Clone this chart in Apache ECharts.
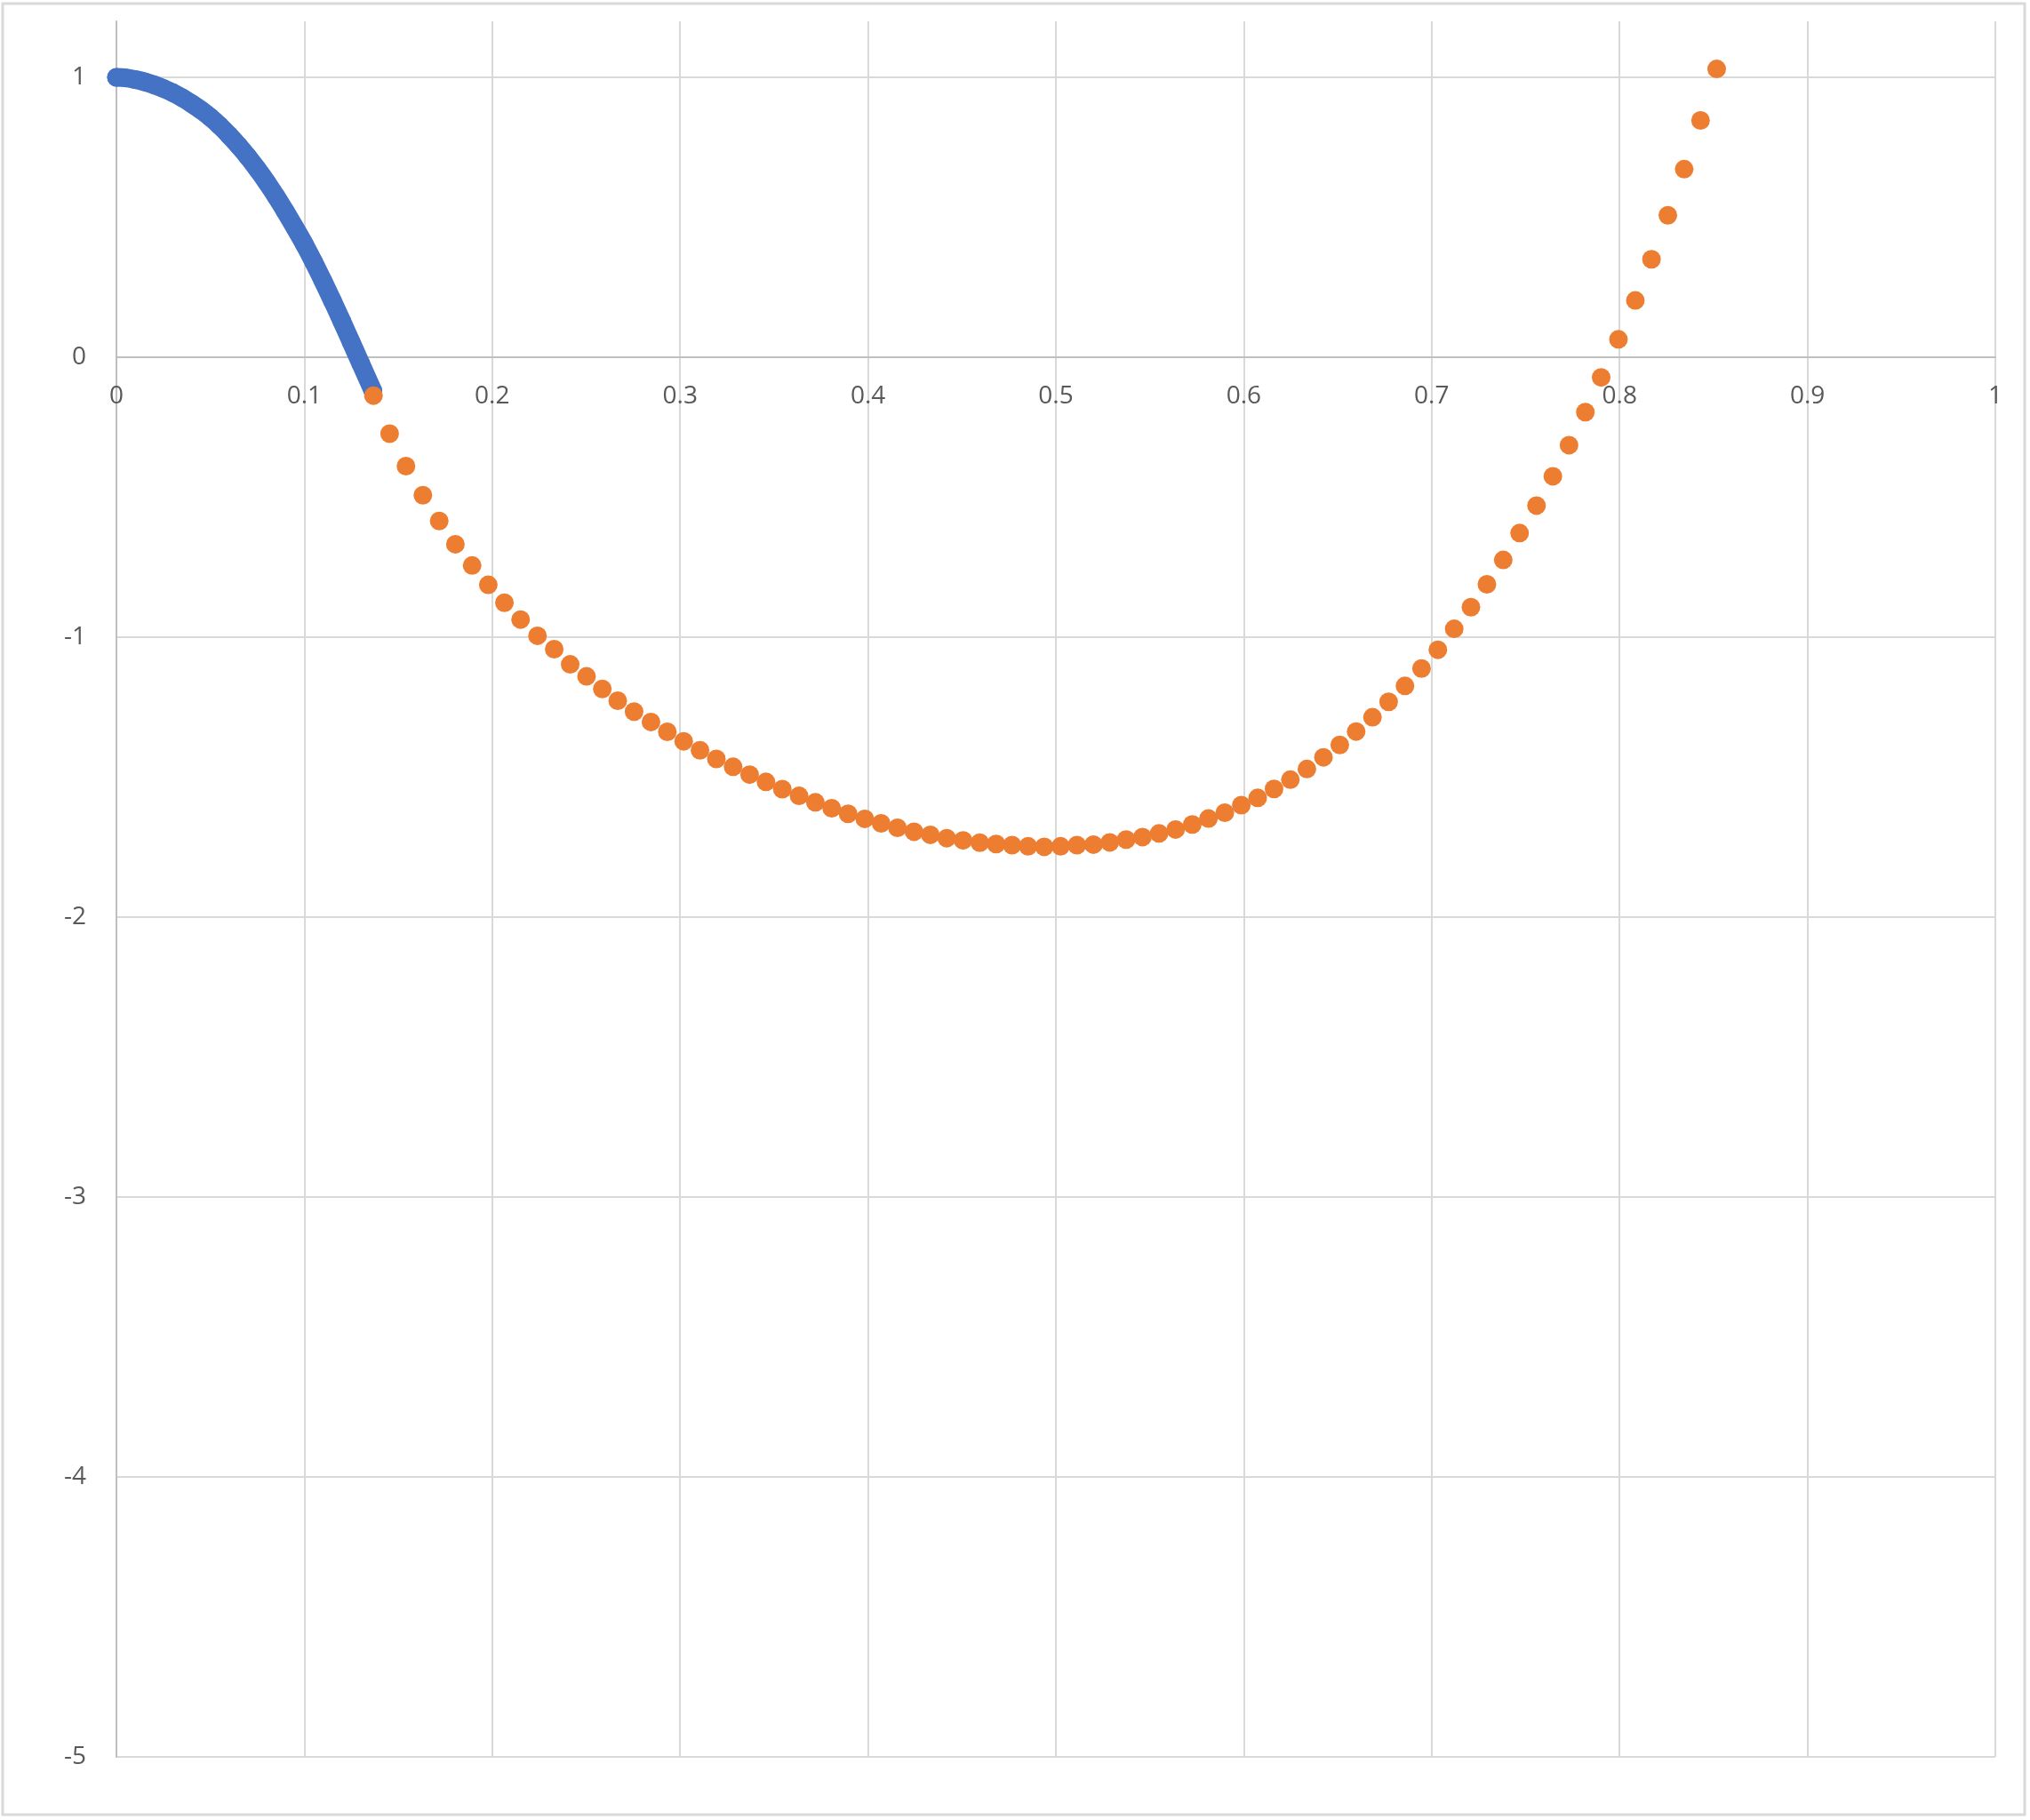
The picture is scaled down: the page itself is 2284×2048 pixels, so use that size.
<!DOCTYPE html>
<html>
<head>
<meta charset="utf-8">
<script src="https://cdn.jsdelivr.net/npm/echarts@6/dist/echarts.min.js"></script>
<style>
  html, body { margin: 0; padding: 0; background: #ffffff; }
  #chart { width: 2284px; height: 2048px; }
</style>
</head>
<body>
<div id="chart"></div>
<script>
// ---- Data ----
const blueX = [0, 0.005, 0.01, 0.015, 0.02, 0.025, 0.03, 0.035, 0.04, 0.045, 0.05, 0.055, 0.06, 0.065, 0.07, 0.075, 0.08, 0.085, 0.09, 0.095, 0.10, 0.105, 0.11, 0.115, 0.12, 0.125, 0.13, 0.1365];
const blueY = [1.000, 0.998, 0.992, 0.984, 0.973, 0.960, 0.945, 0.927, 0.906, 0.883, 0.857, 0.827, 0.793, 0.756, 0.716, 0.672, 0.625, 0.574, 0.520, 0.463, 0.404, 0.340, 0.272, 0.201, 0.128, 0.053, -0.022, -0.120];

const orangeX = [0.1368, 0.1454, 0.1541, 0.1631, 0.1718, 0.1804, 0.1893, 0.1979, 0.2065, 0.2151, 0.2241, 0.2330,
  0.2415, 0.2502,
  0.2586, 0.2668, 0.2755, 0.2845, 0.2932, 0.3019, 0.3106, 0.3193, 0.3282, 0.3370, 0.3457, 0.3544, 0.3633, 0.3720, 0.3807, 0.3894, 0.3983, 0.4070, 0.4157, 0.4245, 0.4332, 0.4419, 0.4506, 0.4595, 0.4682,
  0.4767, 0.4852, 0.4938, 0.5025, 0.5112, 0.5200, 0.5287, 0.5374, 0.5461, 0.5549, 0.5637, 0.5726, 0.5812, 0.5899, 0.5987, 0.6074, 0.6161, 0.6248, 0.6336, 0.6424, 0.6511, 0.6598, 0.6685, 0.6771, 0.6858,
  0.6946, 0.7033, 0.7120, 0.7209, 0.7294, 0.7381, 0.7468, 0.7558, 0.7645, 0.7731, 0.7818, 0.7902,
  0.7994, 0.8084, 0.8170, 0.8257, 0.8344, 0.8431, 0.8517];
const orangeY = [-0.137, -0.273, -0.389, -0.493, -0.585, -0.668, -0.744, -0.813, -0.877, -0.937, -0.995, -1.043,
  -1.097, -1.140,
  -1.185, -1.227, -1.266, -1.303, -1.338, -1.372, -1.404, -1.435, -1.463, -1.491, -1.517, -1.543, -1.567, -1.590, -1.611, -1.631, -1.649, -1.665, -1.681, -1.695, -1.706, -1.718, -1.726, -1.734, -1.739,
  -1.743, -1.747, -1.749, -1.747, -1.743, -1.741, -1.733, -1.723, -1.714, -1.701, -1.687, -1.669, -1.648, -1.627, -1.600, -1.574, -1.542, -1.509, -1.471, -1.429, -1.385, -1.337, -1.286, -1.231, -1.174,
  -1.112, -1.045, -0.970, -0.893, -0.811, -0.724, -0.628, -0.530, -0.425, -0.314, -0.196, -0.072,
  0.064, 0.203, 0.350, 0.507, 0.672, 0.846, 1.030];

// Axis settings
const xMin = 0, xMax = 1, xStep = 0.1;
const yMin = -5, yMax = 1.2, yStep = 1;

const bluePts = blueX.map((x, i) => [x, blueY[i]]);
const orangePts = orangeX.map((x, i) => [x, orangeY[i]]);

const gridTop = 24, gridBottom = 71, chartH = 2048;
const gridH = chartH - gridTop - gridBottom;
// shift the x axis up so it crosses the y axis at 0
const xAxisOffset = -gridH * (0 - yMin) / (yMax - yMin);

const chart = echarts.init(document.getElementById('chart'), null, { renderer: 'canvas' });
const labelFont = { fontFamily: '"Open Sans", "Noto Sans", sans-serif', fontSize: 28, color: '#595959' };

chart.setOption({
  animation: false,
  backgroundColor: '#ffffff',
  graphic: [{
    type: 'rect',
    shape: { x: 3, y: 4, width: 2275, height: 2038 },
    style: { fill: 'none', stroke: '#d9d9d9', lineWidth: 3 },
    silent: true
  }],
  grid: { left: 131, right: 39, top: gridTop, bottom: gridBottom, containLabel: false },
  xAxis: {
    type: 'value', min: xMin, max: xMax, interval: xStep, position: 'bottom', offset: xAxisOffset,
    axisLine: { show: true, onZero: false, lineStyle: { color: '#bfbfbf', width: 2 } },
    axisTick: { show: false },
    splitLine: { show: true, lineStyle: { color: '#d9d9d9', width: 2 } },
    axisLabel: Object.assign({ margin: 30 }, labelFont)
  },
  yAxis: {
    type: 'value', min: yMin, max: yMax, interval: yStep,
    axisLine: { show: true, onZero: false, lineStyle: { color: '#bfbfbf', width: 2 } },
    axisTick: { show: false },
    splitLine: { show: true, showMaxLine: false, lineStyle: { color: '#d9d9d9', width: 2 } },
    axisLabel: Object.assign({ margin: 34, showMaxLabel: false }, labelFont)
  },
  series: [
    {
      name: 'blue', type: 'line', data: bluePts, smooth: 0.4,
      symbol: 'circle', symbolSize: 21, showSymbol: true,
      itemStyle: { color: '#4472c4' },
      lineStyle: { color: '#4472c4', width: 21, cap: 'round', join: 'round' },
      z: 2
    },
    {
      name: 'orange', type: 'scatter', data: orangePts,
      symbol: 'circle', symbolSize: 21,
      itemStyle: { color: '#ed7d31', opacity: 1 },
      z: 3
    }
  ]
});
</script>
</body>
</html>
